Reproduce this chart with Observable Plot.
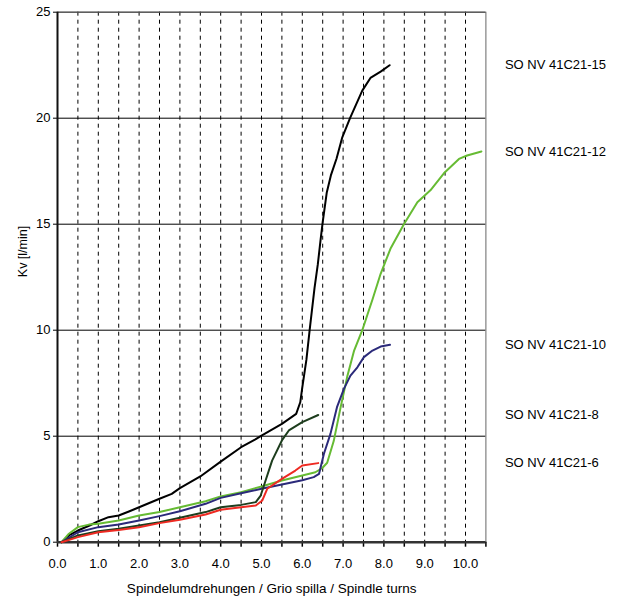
<!DOCTYPE html>
<html>
<head>
<meta charset="utf-8">
<script src="https://cdn.jsdelivr.net/npm/d3@7"></script>
<script src="https://cdn.jsdelivr.net/npm/@observablehq/plot@0.6"></script>
<style>
  html, body { margin: 0; padding: 0; background: #fff; }
  #chart svg { display: block; font-family: "Liberation Sans", Arial, sans-serif; }
</style>
</head>
<body>
<div id="chart"></div>
<script>
// Series: spindle turns (x) and Kv [l/min] (y)
const t15  = [0.1, 0.3, 0.5, 0.8, 1.0, 1.25, 1.5, 1.75, 2.0, 2.5, 2.8, 3.0, 3.5, 4.0, 4.5, 4.85, 5.0, 5.5, 5.85, 5.95, 6.0, 6.1, 6.18, 6.3, 6.38, 6.45, 6.5, 6.6, 6.7, 6.84, 6.98, 7.17, 7.47, 7.67, 7.92, 8.14];
const kv15 = [0, 0.35, 0.55, 0.8, 0.99, 1.18, 1.26, 1.45, 1.65, 2.05, 2.28, 2.55, 3.1, 3.8, 4.48, 4.85, 5.03, 5.58, 6.05, 6.6, 7.3, 8.6, 10.0, 12.0, 13.1, 14.3, 15.1, 16.5, 17.3, 18.1, 19.1, 20.0, 21.3, 21.9, 22.2, 22.5];

const t12  = [0.1, 0.28, 0.5, 0.77, 1.0, 1.5, 2.0, 2.5, 3.0, 3.63, 4.0, 4.5, 5.0, 5.5, 6.0, 6.32, 6.49, 6.61, 6.77, 6.94, 7.1, 7.27, 7.47, 7.6, 7.72, 7.92, 8.16, 8.49, 8.82, 9.14, 9.47, 9.84, 10.04, 10.39];
const kv12 = [0, 0.4, 0.71, 0.83, 0.87, 1.02, 1.26, 1.42, 1.65, 1.93, 2.16, 2.36, 2.63, 2.91, 3.15, 3.3, 3.5, 3.75, 4.77, 6.37, 7.8, 9.04, 10.0, 10.75, 11.45, 12.66, 13.84, 15.0, 16.04, 16.6, 17.4, 18.08, 18.24, 18.43];

const t10  = [0.1, 0.5, 1.0, 1.5, 2.0, 2.5, 3.0, 3.63, 4.0, 4.5, 5.0, 5.5, 6.0, 6.28, 6.41, 6.53, 6.69, 6.85, 7.02, 7.18, 7.35, 7.51, 7.72, 7.92, 8.15];
const kv10 = [0, 0.47, 0.71, 0.83, 1.02, 1.23, 1.46, 1.81, 2.09, 2.31, 2.52, 2.72, 2.92, 3.07, 3.22, 4.17, 5.11, 6.37, 7.23, 7.86, 8.25, 8.73, 9.04, 9.23, 9.31];

const t8   = [0.1, 0.5, 1.0, 1.5, 2.0, 2.5, 3.0, 3.63, 4.0, 4.5, 4.86, 4.98, 5.1, 5.26, 5.5, 5.67, 6.0, 6.39];
const kv8  = [0, 0.32, 0.52, 0.63, 0.79, 0.94, 1.15, 1.42, 1.65, 1.76, 1.89, 2.2, 2.91, 3.85, 4.8, 5.27, 5.66, 6.0];

const t6   = [0.1, 0.5, 1.0, 1.5, 2.0, 2.5, 3.0, 3.63, 4.0, 4.5, 4.86, 5.02, 5.14, 5.5, 5.83, 6.0, 6.39];
const kv6  = [0, 0.24, 0.47, 0.58, 0.71, 0.9, 1.06, 1.31, 1.53, 1.65, 1.73, 1.97, 2.52, 2.99, 3.38, 3.62, 3.73];

const seriesNames  = ["SO NV 41C21-15", "SO NV 41C21-12", "SO NV 41C21-10", "SO NV 41C21-8", "SO NV 41C21-6"];
const seriesColors = ["#000000", "#66bb33", "#2b2a7a", "#1d3d1d", "#ee2a22"];
const seriesT  = [t15, t12, t10, t8, t6];
const seriesKv = [kv15, kv12, kv10, kv8, kv6];

const xTicks      = d3.range(0, 10.51, 0.5);
const xGrid       = d3.range(0.5, 10.01, 0.5);
const yTicks      = [0, 5, 10, 15, 20, 25];
const yGrid       = [5, 10, 15, 20, 25];
const xLabel = "Spindelumdrehungen / Grio spilla / Spindle turns";
const yLabel = "Kv [l/min]";

const rows = [];
seriesNames.forEach((name, i) => {
  seriesT[i].forEach((t, j) => rows.push({series: name, t, kv: seriesKv[i][j]}));
});
const ends = seriesNames.map((name, i) => ({series: name, kv: seriesKv[i][seriesKv[i].length - 1]}));

const chart = Plot.plot({
  width: 623,
  height: 598,
  marginLeft: 57,
  marginRight: 137.6,
  marginTop: 11.7,
  marginBottom: 56.3,
  style: {fontFamily: '"Liberation Sans", Arial, sans-serif', fontSize: "13px", background: "#fff", color: "#000"},
  x: {domain: [0, 10.5]},
  y: {domain: [0, 25]},
  color: {domain: seriesNames, range: seriesColors},
  marks: [
    Plot.gridX(xGrid, {stroke: "#000", strokeOpacity: 1, strokeDasharray: "4,4", strokeWidth: 1}),
    Plot.gridY(yGrid, {stroke: "#000", strokeOpacity: 1, strokeWidth: 1}),
    Plot.frame({stroke: "#666", strokeWidth: 1}),
    Plot.axisX({ticks: xTicks, tickSize: 5, tickPadding: 12, tickFormat: d => Number.isInteger(d) ? d.toFixed(1) : "", label: null, fontSize: 13, strokeWidth: 1.5}),
    Plot.axisY({ticks: yTicks, tickSize: 4, tickPadding: 3, label: null, fontSize: 13}),
    Plot.ruleX([0], {stroke: "#111", strokeWidth: 2}),
    Plot.ruleY([0], {stroke: "#333", strokeWidth: 2.5}),
    Plot.line(rows, {x: "t", y: "kv", z: "series", stroke: "series", strokeWidth: 2, curve: "linear"}),
    Plot.text(ends, {y: "kv", text: "series", frameAnchor: "right", dx: 19, textAnchor: "start", fontSize: 13, fill: "#000"}),
    Plot.text([xLabel], {frameAnchor: "bottom", dy: 51, fontSize: 13.5, fill: "#000"}),
    Plot.text([yLabel], {frameAnchor: "left", dx: -35, rotate: -90, fontSize: 12.5, fill: "#000"})
  ]
});
document.getElementById("chart").appendChild(chart);
</script>
</body>
</html>
